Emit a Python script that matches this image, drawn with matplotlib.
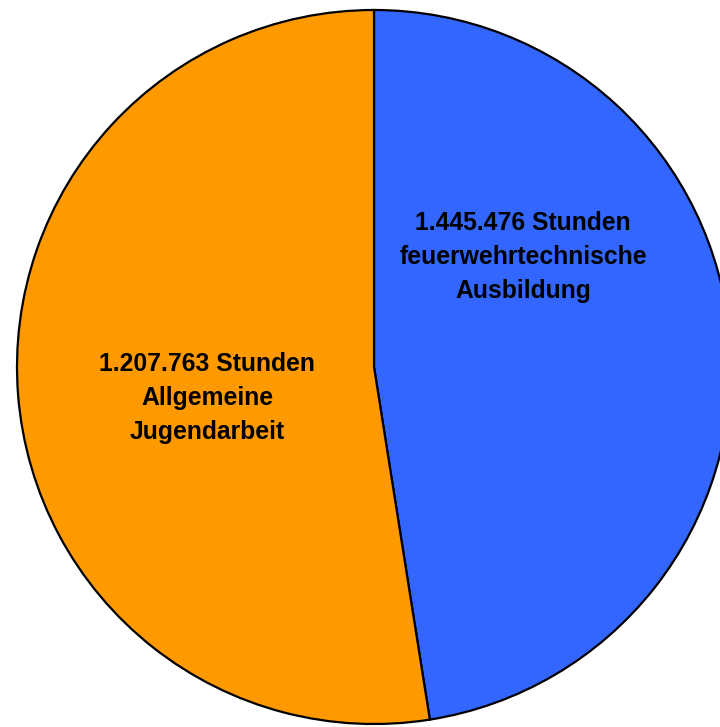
import matplotlib.pyplot as plt

# slice sizes as drawn (percent of the circle)
shares = [47.5, 52.5]
hours = ["1.445.476", "1.207.763"]
labels = ["feuerwehrtechnische\nAusbildung", "Allgemeine\nJugendarbeit"]
colors = ["#3366FF", "#FF9900"]

plt.rcParams['font.family'] = ['Liberation Sans', 'DejaVu Sans']

fig = plt.figure(figsize=(7.2, 7.27), dpi=100)
ax = fig.add_axes([0, 0, 1, 1])

# circle centre at pixel (374, 367), radius 357 px
cx, cy, r = 374, 367, 357
ax.pie(shares, colors=colors, startangle=90, counterclock=False,
       radius=1, wedgeprops=dict(edgecolor='black', linewidth=1.6))
ax.set_xlim(-cx / r, (720 - cx) / r)
ax.set_ylim(-(727 - cy) / r, cy / r)
ax.set_aspect('auto')
ax.axis('off')

# label spots in pixels
spots = [(523, 257), (207, 398)]
for h, lab, (px, py) in zip(hours, labels, spots):
    ax.text((px - cx) / r, (cy - py) / r, h + " Stunden\n" + lab,
            ha='center', va='center', fontsize=17.8, fontweight='bold',
            linespacing=1.52, multialignment='center')

fig.savefig('out.png', dpi=100)
